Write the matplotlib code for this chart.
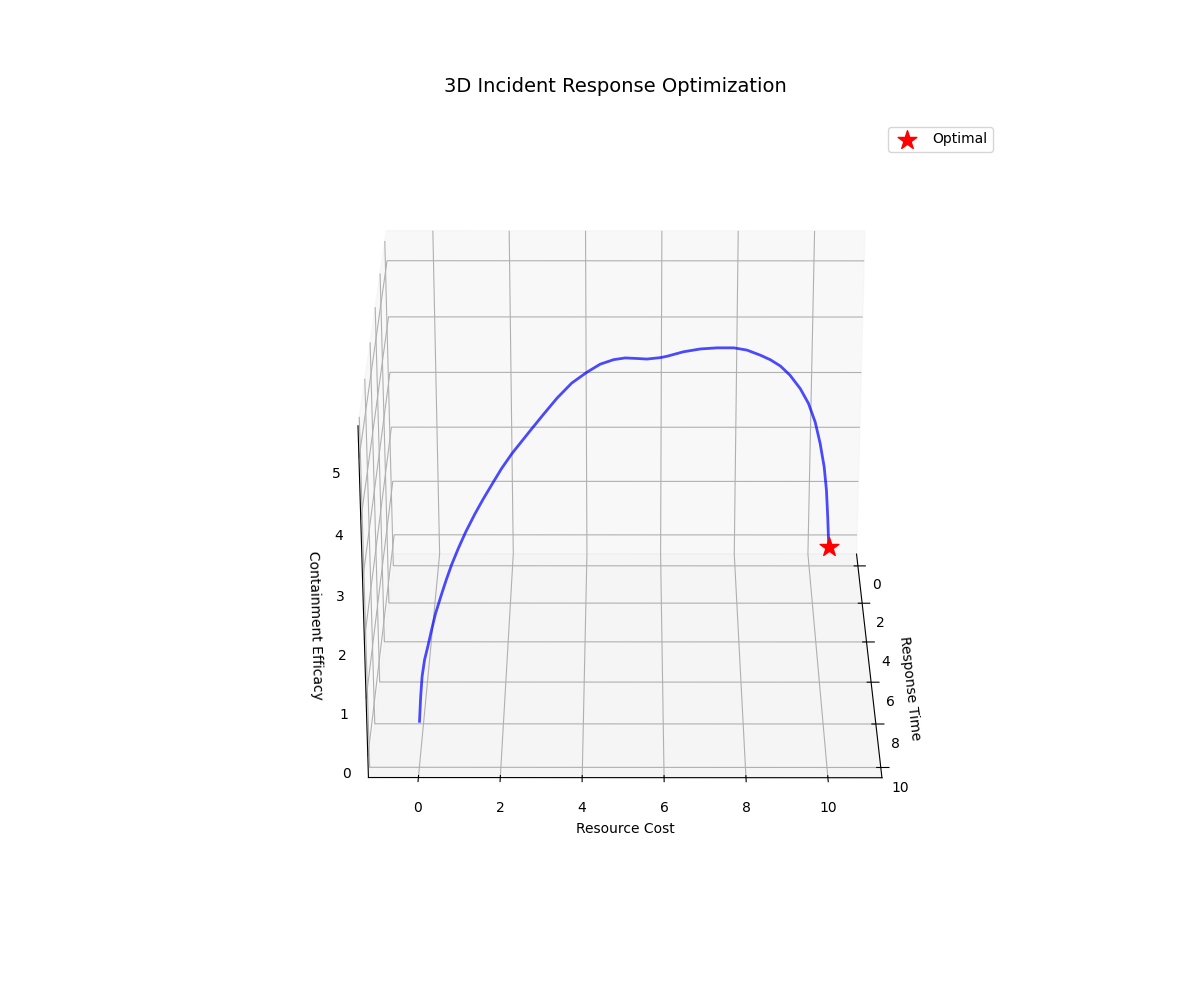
import matplotlib
matplotlib.use("Agg")
import matplotlib.pyplot as plt

resource_cost = [0.03,0.07,0.11,0.17,0.25,0.33,0.42,0.55,0.66,0.78,0.93,1.1,1.31,1.5,1.74,1.93,2.18,2.62,2.95,3.29,3.66,4.05,4.39,4.74,5.04,5.35,5.61,5.96,6.14,6.57,7.01,7.45,7.88,8.22,8.56,8.81,9.06,9.29,9.52,9.7,9.83,9.91,9.96,9.97,9.95,9.92]
response_time = [10,9.95,9.85,9.7,9.5,9.3,9,8.6,8.3,8,7.6,7.1,6.6,6.1,5.6,5.1,4.6,3.8,3.2,2.6,2,1.5,1.2,1,0.8,0.7,0.6,0.55,0.5,0.5,0.5,0.5,0.6,0.8,1.1,1.4,1.7,2.2,3,3.7,4.6,5.6,6.7,7.7,8.8,10]
efficacy = [0.44,0.85,1.16,1.39,1.56,1.75,1.93,2.11,2.26,2.41,2.55,2.67,2.81,2.90,3.03,3.10,3.20,3.34,3.44,3.54,3.62,3.66,3.71,3.73,3.7,3.66,3.62,3.63,3.64,3.72,3.77,3.79,3.82,3.84,3.84,3.85,3.83,3.82,3.83,3.79,3.75,3.7,3.65,3.58,3.5,3.4]
optimal_cost = [9.92]
optimal_time = [10]
optimal_efficacy = [3.4]

fig = plt.figure(figsize=(12, 10), dpi=100)
ax = fig.add_subplot(111, projection='3d')
ax.plot(resource_cost, response_time, efficacy, color='blue', alpha=0.7, linewidth=2)
ax.scatter(optimal_cost, optimal_time, optimal_efficacy, color='red', s=200, marker='*', label='Optimal', depthshade=False)
ax.set_xlim(-1.22, 11.32, view_margin=0)
ax.set_ylim(10.46, -0.65, view_margin=0)
ax.set_zlim(-0.36, 5.53, view_margin=0)
ax.set_xlabel('Resource Cost')
ax.set_ylabel('Response Time')
ax.set_zlabel('Containment Efficacy')
ax.set_title('3D Incident Response Optimization', fontsize=14, pad=20.4)
ax.view_init(elev=25, azim=-89.95)
ax.yaxis.set_pane_color((0.95, 0.95, 0.95, 0.5))
ax.zaxis.set_ticks_position('upper')
ax.zaxis.set_label_position('upper')
ax.tick_params(axis='z', color=(0, 0, 0, 0))
ax.legend()
fig.savefig('out.png', dpi=100)
